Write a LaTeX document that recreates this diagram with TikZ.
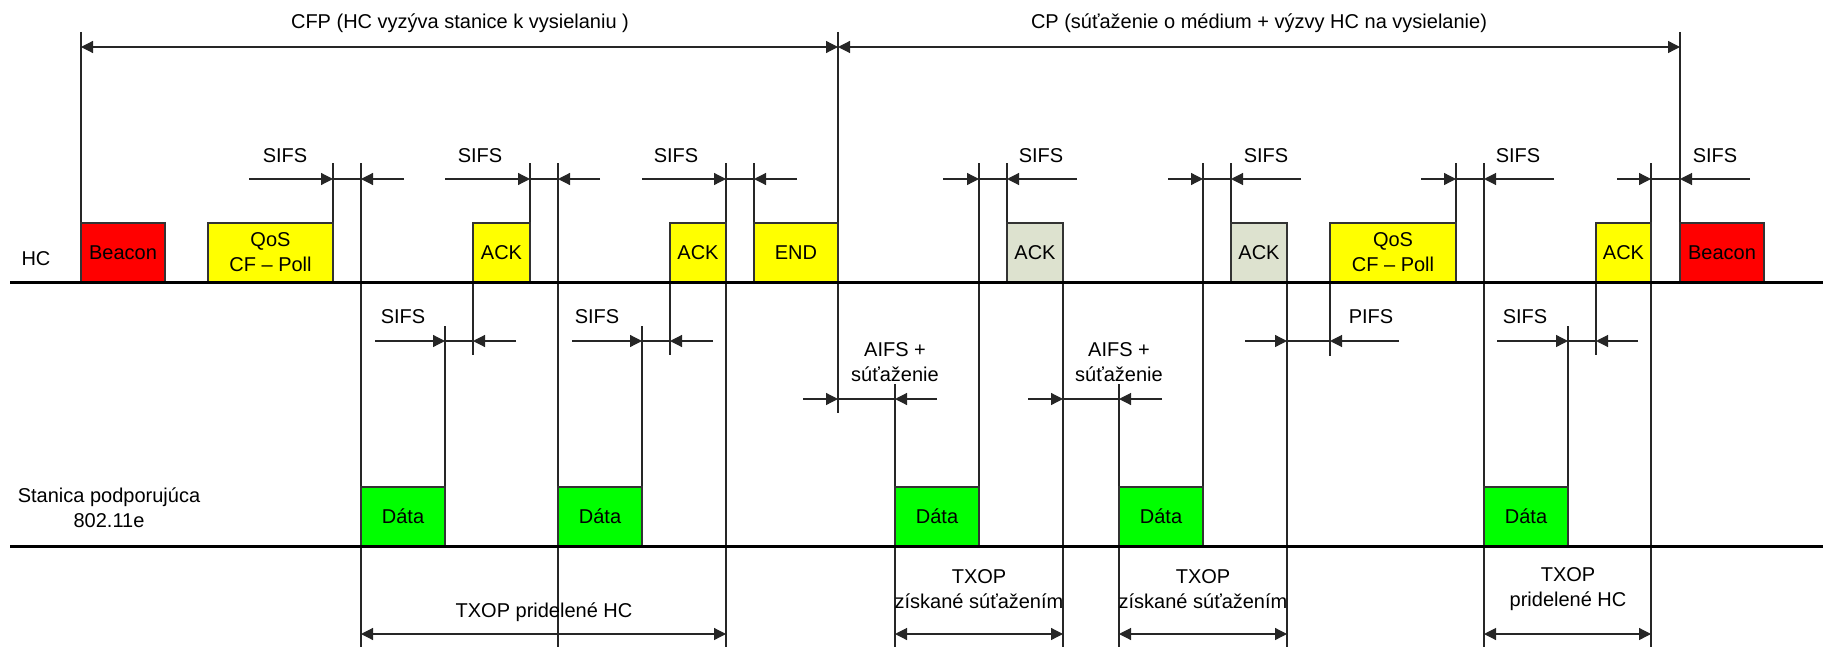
\documentclass[tikz,border=0pt]{standalone}
\usepackage{fontspec}
\setmainfont{Liberation Sans}
\usetikzlibrary{arrows.meta}

\definecolor{beaconred}{RGB}{255,0,0}
\definecolor{pollyellow}{RGB}{255,255,0}
\definecolor{datagreen}{RGB}{0,255,0}
\definecolor{ackgrey}{RGB}{221,226,207}

\begin{document}
\begin{tikzpicture}[x=0.5pt,y=-0.5pt,
  every node/.style={font=\fontsize{10}{12.5}\selectfont,inner sep=0pt,outer sep=0pt},
  tl/.style={line width=0.6pt,black!85},
  tk/.style={tl,-{Triangle[length=6pt,width=6pt]}},
  span/.style={tl,{Triangle[length=6pt,width=6pt]}-{Triangle[length=6pt,width=6pt]}},
  pkt/.style={draw=black!80,line width=0.6pt,minimum height=29.5pt,align=center},
  medium/.style={line width=1.5pt}]
  \useasboundingbox (0,0) rectangle (1823,647);
  % vertical time marks
  \foreach \x/\ya/\yb in {81/32/223, 838/32/413, 1680/32/223,
      333/163/223, 361/163/647, 530/163/223, 558/163/647, 726/163/647, 754/163/223,
      979/163/487, 1007/163/223, 1063/282/647, 1203/163/487, 1231/163/223, 1287/282/647,
      1456/163/223, 1484/163/647, 1651/163/647,
      445/326/487, 473/282/355, 642/326/487, 670/282/355, 1330/282/356,
      1568/326/487, 1596/282/355, 895/384/647, 1119/384/647}
    \draw[tl] (\x,\ya) -- (\x,\yb);
  % frames sent by HC
  \foreach \a/\b/\col/\txt [count=\i] in {81/165/beaconred/Beacon, 208/333/pollyellow/{QoS\\CF – Poll},
      473/530/pollyellow/ACK, 670/726/pollyellow/ACK, 754/838/pollyellow/END,
      1007/1063/ackgrey/ACK, 1231/1287/ackgrey/ACK, 1330/1456/pollyellow/{QoS\\CF – Poll},
      1596/1651/pollyellow/ACK, 1680/1764/beaconred/Beacon}
    \node[pkt,fill=\col,minimum width={(\b-\a)*0.5pt}] (hcf\i) at ({(\a+\b)/2},252.5) {\txt};
  % frames sent by the station
  \foreach \a/\b [count=\i] in {361/445, 558/642, 895/979, 1119/1203, 1484/1568}
    \node[pkt,fill=datagreen,minimum width={(\b-\a)*0.5pt}] (dat\i) at ({(\a+\b)/2},516.5) {Dáta};
  % time lines
  \draw[medium] (10,282) -- (1823,282);
  \draw[medium] (10,546) -- (1823,546);
  \node (hc) at (36,259) {HC};
  \node[align=center] (sta) at (109,508) {Stanica podporujúca\\802.11e};
  % CFP and CP
  \coordinate (cfpL) at (81,47);
  \coordinate (cpM) at (838,47);
  \coordinate (cpR) at (1680,47);
  \draw[span] (cfpL) -- (cpM);
  \draw[span] (cpM) -- (cpR);
  \node (cfp) at (460,23) {CFP (HC vyzýva stanice k vysielaniu )};
  \node (cp) at (1259,23) {CP (súťaženie o médium + výzvy HC na vysielanie)};
  % interframe spaces
  \foreach \xa/\xb/\xc/\xd/\y/\lx/\ly/\lab [count=\i] in {
      249/333/361/404/179/285/156/SIFS, 445/530/558/600/179/480/156/SIFS,
      642/726/754/797/179/676/156/SIFS, 943/979/1007/1077/179/1041/156/SIFS,
      1168/1203/1231/1301/179/1266/156/SIFS, 1421/1456/1484/1554/179/1518/156/SIFS,
      1617/1651/1680/1750/179/1715/156/SIFS,
      375/445/473/516/341/403/317/SIFS, 572/642/670/713/341/597/317/SIFS,
      1245/1287/1330/1399/341/1371/317/PIFS, 1497/1568/1596/1638/341/1525/317/SIFS,
      803/838/895/937/399/895/362/{AIFS +\\súťaženie},
      1028/1063/1119/1162/399/1119/362/{AIFS +\\súťaženie}}{
    \coordinate (gl\i) at (\xa,\y);
    \coordinate (gr\i) at (\xd,\y);
    \draw[tk] (gl\i) -- (\xb,\y);
    \draw[tk] (gr\i) -- (\xc,\y);
    \draw[tl] (\xb,\y) -- (\xc,\y);
    \node[align=center] (ifs\i) at (\lx,\ly) {\lab};
  }
  % transmit opportunities
  \foreach \a/\b/\lx/\ly/\txt [count=\i] in {361/726/544/612/{TXOP pridelené HC},
      895/1063/979/589/{TXOP\\získané súťažením}, 1119/1287/1203/589/{TXOP\\získané súťažením},
      1484/1651/1568/589/{TXOP\\pridelené HC}}{
    \draw[span] (\a,634) -- (\b,634);
    \node[align=center] (txop\i) at (\lx,\ly) {\txt};
  }
\end{tikzpicture}
\end{document}
